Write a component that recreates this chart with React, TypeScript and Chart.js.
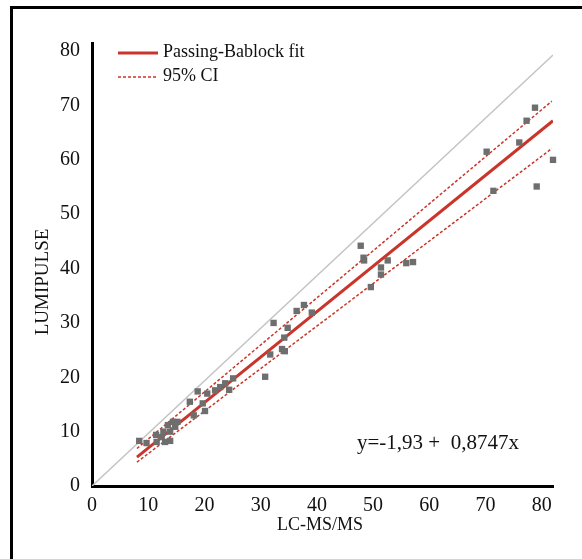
import { useEffect, useRef } from 'react';
import { Chart, registerables } from 'chart.js';

Chart.register(...registerables);

const xTicks = [0, 10, 20, 30, 40, 50, 60, 70, 80];
const yTicks = [0, 10, 20, 30, 40, 50, 60, 70, 80];

const lcmsValues = [
  8.4, 9.7, 11.4, 11.5, 12.4, 12.7, 13.0, 13.5, 13.9, 13.9, 14.4, 14.8, 15.2,
  17.4, 18.1, 18.8, 19.7, 20.1, 20.5, 21.9, 22.8, 23.7, 24.4, 25.1,
  30.8, 31.7, 32.3, 33.8, 34.3, 34.2, 34.8, 36.4, 37.7, 39.1,
  47.8, 48.3, 48.4, 49.6, 51.4, 51.4, 52.6, 55.9, 57.1,
  70.2, 71.4, 76.0, 77.3, 78.8, 79.1, 82.0,
];
const lumipulseValues = [
  8.3, 7.9, 9.4, 8.1, 9.0, 10.0, 8.1, 11.2, 10.0, 8.3, 11.8, 10.9, 11.8,
  15.5, 13.0, 17.4, 15.2, 13.8, 17.0, 17.6, 18.2, 18.9, 17.7, 19.8,
  20.1, 24.2, 30.0, 25.2, 24.8, 27.3, 29.1, 32.2, 33.3, 31.9,
  44.2, 42.0, 41.5, 36.6, 40.2, 38.9, 41.5, 41.0, 41.2,
  61.5, 54.3, 63.2, 67.2, 69.6, 55.1, 60.0,
];

const identityX = [0, 82];
const identityY = [0, 79.3];
const fitX = [8, 82];
const fitY = [5.3, 67.2];
const ciUpperX = [8, 81.8];
const ciUpperY = [6.9, 70.8];
const ciLowerX = [8, 81.8];
const ciLowerY = [4.4, 62.1];

const legendLabels = ['Passing-Bablock fit', '95% CI'];
const equationText = 'y=-1,93 +  0,8747x';
const xTitle = 'LC-MS/MS';
const yTitle = 'LUMIPULSE';

const RED = '#c9352a';
const FONT = '"Liberation Serif", "DejaVu Serif", serif';

const zip = (xs: number[], ys: number[]) => xs.map((x, i) => ({ x, y: ys[i] }));

export default function App() {
  const ref = useRef<HTMLCanvasElement | null>(null);

  useEffect(() => {
    if (!ref.current) return;
    const textPlugin = {
      id: 'texts',
      afterDraw(chart: any) {
        const ctx = chart.ctx as CanvasRenderingContext2D;
        ctx.save();
        ctx.fillStyle = '#111';
        ctx.font = `18px ${FONT}`;
        ctx.textBaseline = 'middle';
        // legend
        ctx.strokeStyle = RED;
        ctx.lineWidth = 3;
        ctx.setLineDash([]);
        ctx.beginPath();
        ctx.moveTo(118, 53);
        ctx.lineTo(158, 53);
        ctx.stroke();
        ctx.lineWidth = 1.5;
        ctx.setLineDash([3, 2]);
        ctx.beginPath();
        ctx.moveTo(118, 77);
        ctx.lineTo(158, 77);
        ctx.stroke();
        ctx.setLineDash([]);
        ctx.textAlign = 'left';
        ctx.fillText(legendLabels[0], 163, 52);
        ctx.fillText(legendLabels[1], 163, 76);
        // equation
        ctx.font = `21px ${FONT}`;
        ctx.fillText(equationText, 357, 443);
        // axis titles
        ctx.font = `18px ${FONT}`;
        ctx.textAlign = 'center';
        ctx.fillText(xTitle, 320, 525);
        ctx.font = `19px ${FONT}`;
        ctx.translate(43, 282);
        ctx.rotate(-Math.PI / 2);
        ctx.fillText(yTitle, 0, 0);
        ctx.restore();
      },
    };

    const chart = new Chart(ref.current, {
      type: 'scatter',
      data: {
        datasets: [
          {
            label: 'data',
            data: zip(lcmsValues, lumipulseValues),
            pointStyle: 'rect',
            pointRadius: 4.5,
            backgroundColor: '#6e6e6e',
            borderWidth: 0,
            clip: false as any,
          },
          {
            label: 'upper',
            data: zip(ciUpperX, ciUpperY),
            showLine: true,
            pointRadius: 0,
            borderColor: RED,
            borderWidth: 1.5,
            borderDash: [3, 2],
          },
          {
            label: 'lower',
            data: zip(ciLowerX, ciLowerY),
            showLine: true,
            pointRadius: 0,
            borderColor: RED,
            borderWidth: 1.5,
            borderDash: [3, 2],
          },
          {
            label: 'fit',
            data: zip(fitX, fitY),
            showLine: true,
            pointRadius: 0,
            borderColor: RED,
            borderWidth: 3,
          },
          {
            label: 'identity',
            data: zip(identityX, identityY),
            showLine: true,
            pointRadius: 0,
            borderColor: '#c4c4c4',
            borderWidth: 1.5,
          },
        ],
      },
      options: {
        animation: false,
        responsive: false,
        devicePixelRatio: 1,
        layout: { padding: { left: 0, top: 43, right: 29, bottom: 0 } },
        plugins: { legend: { display: false }, tooltip: { enabled: false } },
        scales: {
          x: {
            type: 'linear',
            min: 0,
            max: 82,
            afterBuildTicks: (s: any) => {
              s.ticks = xTicks.map((v) => ({ value: v }));
            },
            afterFit: (s: any) => {
              s.height = 73;
            },
            grid: { display: true, drawOnChartArea: false, drawTicks: false },
            border: { display: true, color: '#000', width: 3 },
            ticks: {
              color: '#111',
              font: { family: FONT, size: 20 },
              padding: 8,
              maxRotation: 0,
              autoSkip: false,
            },
          },
          y: {
            type: 'linear',
            min: 0,
            max: 81.5,
            afterBuildTicks: (s: any) => {
              s.ticks = yTicks.map((v) => ({ value: v }));
            },
            afterFit: (s: any) => {
              s.width = 92;
            },
            grid: { display: true, drawOnChartArea: false, drawTicks: false },
            border: { display: true, color: '#000', width: 3 },
            ticks: {
              color: '#111',
              font: { family: FONT, size: 20 },
              padding: 12,
              autoSkip: false,
            },
          },
        },
      },
      plugins: [textPlugin],
    });
    return () => chart.destroy();
  }, []);

  return (
    <div>
      <div
        style={{
          position: 'fixed',
          left: 10,
          top: 6,
          width: 640,
          height: 640,
          border: '3px solid #000',
          boxSizing: 'border-box',
        }}
      />
      <canvas
        ref={ref}
        width={582}
        height={559}
        style={{ position: 'fixed', left: 0, top: 0, width: 582, height: 559 }}
      />
    </div>
  );
}
